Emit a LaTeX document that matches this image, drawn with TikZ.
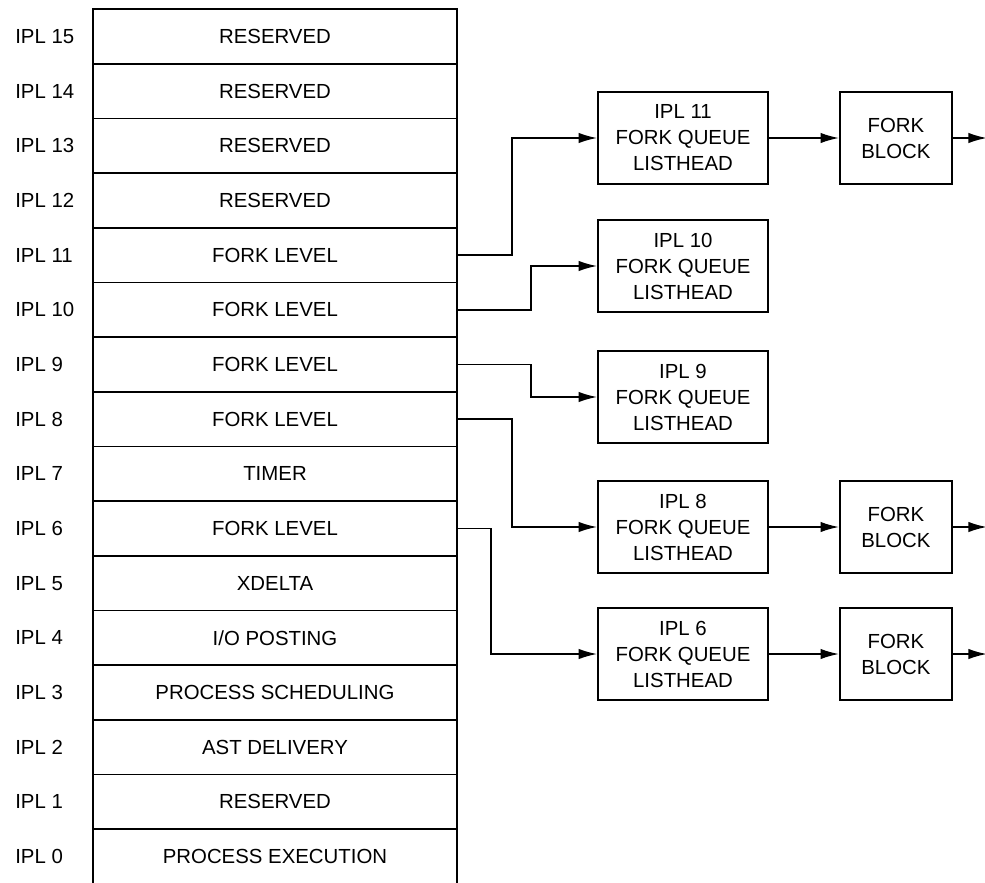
\documentclass[tikz,border=0pt]{standalone}
\usepackage{fontspec}
\setmainfont{Liberation Sans}
\usetikzlibrary{arrows.meta, positioning}

\begin{document}
\begin{tikzpicture}[x=0.025cm, y=-0.025cm,
  font=\fontsize{14.5}{18.5}\selectfont,
  row/.style={draw, line width=1.2pt, minimum width=9.1cm, minimum height=1.367cm, inner sep=0pt},
  lbl/.style={anchor=west, inner sep=0pt},
  qbox/.style={draw, line width=1.3pt, minimum width=4.25cm, minimum height=2.3cm, align=center},
  fbox/.style={draw, line width=1.3pt, minimum width=2.8cm, minimum height=2.3cm, align=center},
  arrow/.style={-{Latex[length=4.6mm, width=2.6mm]}, line width=1.1pt}
]
\useasboundingbox (0,0) rectangle (985,882);
% priority table
\foreach \k/\n/\t in {0/15/RESERVED, 1/14/RESERVED, 2/13/RESERVED, 3/12/RESERVED,
    4/11/FORK LEVEL, 5/10/FORK LEVEL, 6/9/FORK LEVEL, 7/8/FORK LEVEL,
    8/7/TIMER, 9/6/FORK LEVEL, 10/5/XDELTA, 11/4/{I/O POSTING},
    12/3/PROCESS SCHEDULING, 13/2/AST DELIVERY, 14/1/RESERVED, 15/0/PROCESS EXECUTION} {
  \node[row] (r\n) at (275, 36.5+54.67*\k) {\t};
  \node[lbl] (l\n) at (15, 36.5+54.67*\k) {IPL \n};
}
% fork queues
\node[qbox] (q11) at (683,138) {IPL 11\\FORK QUEUE\\LISTHEAD};
\node[qbox] (q10) at (683,266) {IPL 10\\FORK QUEUE\\LISTHEAD};
\node[qbox] (q9) at (683,397) {IPL 9\\FORK QUEUE\\LISTHEAD};
\node[qbox] (q8) at (683,527) {IPL 8\\FORK QUEUE\\LISTHEAD};
\node[qbox] (q6) at (683,654) {IPL 6\\FORK QUEUE\\LISTHEAD};
\node[fbox, right=1.75cm of q11] (f11) {FORK\\BLOCK};
\node[fbox, right=1.75cm of q8] (f8) {FORK\\BLOCK};
\node[fbox, right=1.75cm of q6] (f6) {FORK\\BLOCK};
\coordinate[right=0.85cm of f11] (o11);
\coordinate[right=0.85cm of f8] (o8);
\coordinate[right=0.85cm of f6] (o6);
% connectors
\draw[arrow] (r11.east) -- ++(54,0) |- (q11.west);
\draw[arrow] (r10.east) -- ++(73,0) |- (q10.west);
\draw[arrow] (r9.east) -- ++(73,0) |- (q9.west);
\draw[arrow] (r8.east) -- ++(54,0) |- (q8.west);
\draw[arrow] (r6.east) -- ++(33,0) |- (q6.west);
\draw[arrow] (q11) -- (f11);
\draw[arrow] (q8) -- (f8);
\draw[arrow] (q6) -- (f6);
\draw[arrow] (f11) -- (o11);
\draw[arrow] (f8) -- (o8);
\draw[arrow] (f6) -- (o6);
\end{tikzpicture}
\end{document}
